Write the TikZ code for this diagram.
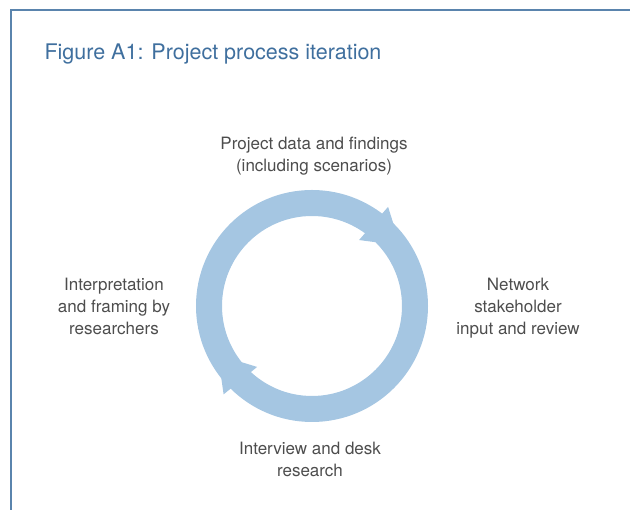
\documentclass[tikz,border=0pt]{standalone}
\usepackage{fontspec}
\setmainfont{TeX Gyre Heros}
\definecolor{framecol}{HTML}{5A84AD}
\definecolor{titlecol}{HTML}{3F6F9E}
\definecolor{ringcol}{HTML}{A5C6E2}
\definecolor{textcol}{HTML}{4D4D4D}
\begin{document}
\begin{tikzpicture}[x=1pt, y=1pt, label/.style={align=center, anchor=base, text=textcol, font=\fontsize{17}{22}\selectfont}]
                \useasboundingbox (0,0) rectangle (630,510);
                \draw[framecol, line width=1.3pt] (630,500) -- (11,500) -- (11,0);
                \node[anchor=base west, text=titlecol, font=\fontsize{21.5}{26}\selectfont] (title) at (41,450) {Figure A1: Project process iteration};

                \coordinate (c) at (312,204);
                \draw[ringcol, line width=26pt] (c) circle (103);
                \fill[ringcol] ([shift=(52.5:125)] c) -- ([shift=(34.5:107)] c) -- ([shift=(54.5:81)] c) -- cycle;
                \fill[ringcol] ([shift=(225:125)] c) -- ([shift=(207.5:106)] c) -- ([shift=(228:82)] c) -- cycle;

                \node[label] (data) at ([shift={(2,134)}] c) {Project data and findings\\(including scenarios)};
                \node[label] (review) at ([shift={(206,-29)}] c) {Network\\stakeholder\\input and review};
                \node[label] (interview) at ([shift={(-2,-171)}] c) {Interview and desk\\research};
                \node[label] (framing) at ([shift={(-198,-29)}] c) {Interpretation\\and framing by\\researchers};
            \end{tikzpicture}
\end{document}
